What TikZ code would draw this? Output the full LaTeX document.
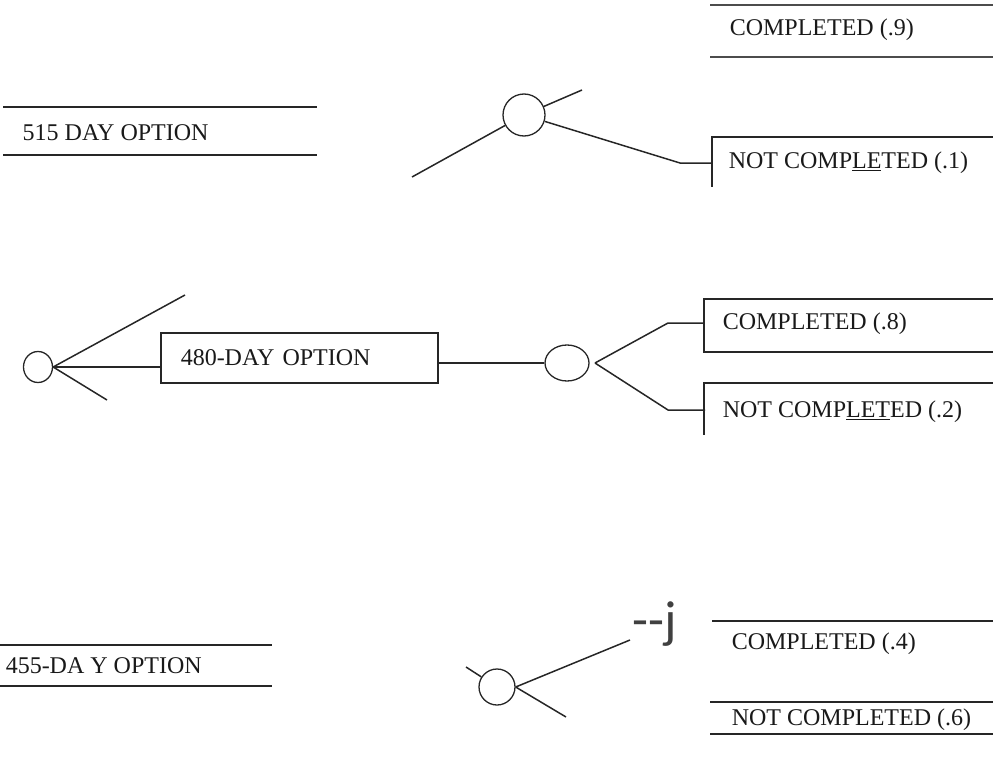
\documentclass[tikz,border=0pt]{standalone}
\usepackage{fontspec}
\setmainfont{Liberation Serif}
\newfontfamily\scanfont{Carlito}
\usetikzlibrary{shapes.geometric}

\begin{document}
\begin{tikzpicture}[x=1pt,y=-1pt,line width=1.5pt,color=black!85,
    chance/.style={ellipse,draw,inner sep=0pt,line width=1.3pt},
    txt/.style={anchor=west,inner sep=0pt,text=black!90,font=\fontsize{24}{28}\selectfont},
    heavy/.style={line width=2.8pt,black!70}]

	\useasboundingbox (0,0) rectangle (993,760);

	% 515-day branch
	\draw (3,107) -- (317,107);
	\draw (3,155) -- (317,155);
	\node[txt] (o515) at (22,133) {515 DAY OPTION};

	\node[chance,minimum width=42pt,minimum height=42pt] (c515) at (524,115) {};
	\coordinate (c515up) at (582,90);
	\coordinate (c515in) at (412,177);
	\coordinate (c515k) at (680,163);
	\coordinate (c515e) at (712,163);
	\draw (c515) -- (c515up);
	\draw (c515) -- (c515in);
	\draw (c515) -- (c515k) -- (c515e);

	\draw[heavy] (710,5) -- (993,5);
	\draw[heavy] (710,57) -- (993,57);
	\node[txt] (y9) at (729,30) {COMPLETED (.9)};

	\draw (993,137) -- (712,137) -- (712,187);
	\node[txt] (n1) at (728,163) {NOT COMP\underline{LE}TED (.1)};

	% 480-day branch
	\node[chance,minimum width=29pt,minimum height=31pt] (root) at (38,367) {};
	\node[draw,anchor=north west,minimum height=50pt,text width=237pt,
	      inner xsep=20pt,align=left,inner ysep=0pt,text=black!90,
	      font=\fontsize{24}{28}\selectfont] (o480) at (160,332) {480-DAY OPTION};
	\coordinate (rootup) at (185,295);
	\coordinate (rootdn) at (107,400);
	\draw (root.east) -- (rootup);
	\draw (root.east) -- (root.east -| o480.west);
	\draw (root.east) -- (rootdn);

	\node[chance,minimum width=44pt,minimum height=36pt] (c480) at (567,363) {};
	\draw (o480.east |- c480) -- (c480.west);
	\coordinate (c480o) at (595,363);
	\coordinate (c480a) at (668,323);
	\coordinate (c480b) at (668,410);
	\draw (c480o) -- (c480a) -- (704,323);
	\draw (c480o) -- (c480b) -- (705,410);

	\draw (993,299) -- (704,299) -- (704,352) -- (993,352);
	\node[txt] (y8) at (722,324) {COMPLETED (.8)};
	\draw (993,383) -- (704,383) -- (704,435);
	\node[txt] (n2) at (722,412) {NOT COMP\underline{LET}ED (.2)};

	% 455-day branch
	\draw (0,645) -- (272,645);
	\draw (0,686) -- (272,686);
	\node[txt] (o455) at (5,666) {455-DA Y OPTION};

	\node[chance,minimum width=36pt,minimum height=36pt] (c455) at (497,687) {};
	\coordinate (c455in) at (466,667);
	\coordinate (c455up) at (630,640);
	\coordinate (c455dn) at (566,717);
	\draw (c455) -- (c455in);
	\draw (c455.east) -- (c455up);
	\draw (c455.east) -- (c455dn);
	\node[anchor=west,inner sep=0pt,text=black!75,font=\scanfont\fontsize{52}{52}\selectfont] (scan) at (632,624) {--j};

	\draw (712,621) -- (993,621);
	\node[txt] (y4) at (731,644) {COMPLETED (.4)};
	\draw (710,702) -- (993,702);
	\draw (710,734) -- (993,734);
	\node[txt] (n6) at (731,720) {NOT COMPLETED (.6)};

\end{tikzpicture}
\end{document}
